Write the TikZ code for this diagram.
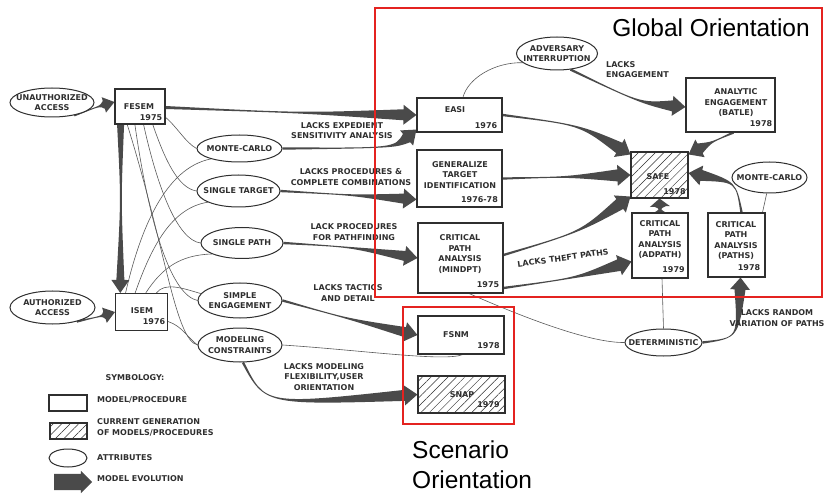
\documentclass[tikz,border=0pt]{standalone}
\usepackage{fontspec}
\setmainfont{DejaVu Sans}
\newfontfamily\headfont{Liberation Sans}
\usetikzlibrary{shapes.geometric,shapes.arrows,calc,patterns.meta}

\definecolor{ink}{HTML}{2F2F2F}
\definecolor{band}{HTML}{4A4A4A}
\definecolor{frame}{HTML}{E42320}

\newcommand\labfont{\fontsize{8}{10.5}\selectfont\bfseries}

\pgfdeclarelayer{links}
\pgfsetlayers{links,main}

\tikzset{
  lab/.style={font=\labfont, text=ink, align=center, inner sep=0pt},
  model/.style={draw=ink, line width=1.1pt, fill=white, rectangle, inner sep=0pt},
  current/.style={model, postaction={pattern={Lines[angle=45,distance=6pt,line width=0.5pt]}, pattern color=ink}},
  attr/.style={draw=ink, line width=1pt, fill=white, ellipse, inner sep=0pt},
  attrline/.style={draw=ink!80, line width=0.6pt},
  orient/.style={draw=frame, line width=1.8pt, rectangle, inner sep=0pt},
  headline/.style={font=\headfont\fontsize{24.5}{30}\selectfont, text=black, inner sep=0pt, align=left},
}

% attribute ellipse with its caption: name, position, width, height, text
\newcommand\attrnode[5]{%
  \node[attr, minimum width=#3, minimum height=#4] (#1) at #2 {};
  \node[lab] (#1-t) at (#1.center) {#5};}

% tapered "model evolution" arrow: start, control point, tip
\pgfkeys{/evo/.is family, /evo,
  tw/.store in=\evoTW, w/.store in=\evoW, hw/.store in=\evoHW, hl/.store in=\evoHL}
\newcommand\evodefaults{\pgfkeys{/evo, tw=1.2pt, w=5pt, hw=10pt, hl=13pt}}
\newcommand\evo[4][]{%
  \begingroup
  \evodefaults\pgfkeys{/evo,#1}%
  \path #2 coordinate (evoS) #3 coordinate (evoC) #4 coordinate (evoT);
  \path ($(evoT)!\evoHL!(evoC)$) coordinate (evoB);
  \fill[band] ($(evoS)!\evoTW!90:(evoC)$) .. controls (evoC) and (evoC) .. ($(evoB)!\evoW!90:(evoT)$)
    -- ($(evoB)!\evoHW!90:(evoT)$) -- (evoT) -- ($(evoB)!\evoHW!-90:(evoT)$)
    -- ($(evoB)!\evoW!-90:(evoT)$) .. controls (evoC) and (evoC) .. ($(evoS)!\evoTW!-90:(evoC)$) -- cycle;
  \endgroup}

\begin{document}
\begin{tikzpicture}[x=1pt,y=-1pt]
\useasboundingbox (0,0) rectangle (827,494);

% ---------- models / procedures ----------
\node[model, minimum width=50pt, minimum height=35pt] (fesem) at (140,106.5) {};
\node[model, minimum width=52pt, minimum height=37pt] (isem) at (141.5,312) {};
\node[model, minimum width=85pt, minimum height=34pt] (easi) at (459.5,115) {};
\node[model, minimum width=85pt, minimum height=57pt] (gen) at (459.5,178.5) {};
\node[model, minimum width=85pt, minimum height=70pt] (mindpt) at (460.5,258) {};
\node[model, minimum width=86pt, minimum height=38pt] (fsnm) at (461,335) {};
\node[current, minimum width=87pt, minimum height=37pt] (snap) at (461.5,394.5) {};
\node[model, minimum width=89pt, minimum height=54pt] (batle) at (730.5,105) {};
\node[current, minimum width=57pt, minimum height=46pt] (safe) at (659.5,175) {};
\node[model, minimum width=56pt, minimum height=65pt] (adpath) at (660,245.5) {};
\node[model, minimum width=57pt, minimum height=64pt] (paths) at (736.5,245) {};

\node[lab] (fesem-t) at (139,106.7) {FESEM};
\node[lab] (fesem-y) at (151,118) {1975};
\node[lab] (isem-t) at (142,310.7) {ISEM};
\node[lab] (isem-y) at (154,322) {1976};
\node[lab] (easi-t) at (455,110) {EASI};
\node[lab] (easi-y) at (486,126) {1976};
\node[lab] (gen-t) at (460,175) {GENERALIZE\\TARGET\\IDENTIFICATION};
\node[lab] (gen-y) at (479.5,200) {1976-78};
\node[lab] (mindpt-t) at (460,254) {CRITICAL\\PATH\\ANALYSIS\\(MINDPT)};
\node[lab] (mindpt-y) at (488,285) {1975};
\node[lab] (fsnm-t) at (456,335) {FSNM};
\node[lab] (fsnm-y) at (488.5,346) {1978};
\node[lab] (snap-t) at (462,395) {SNAP};
\node[lab] (snap-y) at (488.5,405) {1979};
\node[lab] (batle-t) at (736,103) {ANALYTIC\\ENGAGEMENT\\(BATLE)};
\node[lab] (batle-y) at (761,124) {1978};
\node[lab] (safe-t) at (658,177) {SAFE};
\node[lab] (safe-y) at (674.5,192) {1978};
\node[lab] (adpath-t) at (660,239.5) {CRITICAL\\PATH\\ANALYSIS\\(ADPATH)};
\node[lab] (adpath-y) at (673.5,270) {1979};
\node[lab] (paths-t) at (736,240.5) {CRITICAL\\PATH\\ANALYSIS\\(PATHS)};
\node[lab] (paths-y) at (749,268) {1978};

% ---------- attributes ----------
\attrnode{unauth}{(52,102.5)}{84pt}{29pt}{UNAUTHORIZED\\ACCESS}
\attrnode{auth}{(52.5,307.5)}{85pt}{33pt}{AUTHORIZED\\ACCESS}
\attrnode{mcL}{(239.5,148.5)}{85pt}{27pt}{MONTE-CARLO}
\attrnode{st}{(238.5,191)}{83pt}{32pt}{SINGLE TARGET}
\attrnode{sp}{(242,243)}{82pt}{31pt}{SINGLE PATH}
\attrnode{se}{(240,300.5)}{84pt}{35pt}{SIMPLE\\ENGAGEMENT}
\attrnode{mod}{(240,345)}{84pt}{34pt}{MODELING\\CONSTRAINTS}
\attrnode{adv}{(557,53.5)}{81pt}{33pt}{ADVERSARY\\INTERRUPTION}
\attrnode{mcR}{(769.5,177.5)}{75pt}{31pt}{MONTE-CARLO}
\attrnode{det}{(663.5,342.5)}{77pt}{27pt}{DETERMINISTIC}

\begin{pgfonlayer}{links}
% ---------- attribute links ----------
\draw[attrline] ($(fesem.east)!0.6!(fesem.south east)$) .. controls (178,128) and (185,142) .. (mcL.west);
\draw[attrline] ($(fesem.south west)!0.75!(fesem.south east)$) .. controls (165,160) and (178,188) .. (st.west);
\draw[attrline] ($(fesem.south west)!0.57!(fesem.south east)$) .. controls (158,190) and (178,240) .. (sp.west);
\draw[attrline] ($(fesem.south west)!0.4!(fesem.south east)$) .. controls (150,230) and (172,295) .. (se.west);
\draw[attrline] ($(fesem.south west)!0.25!(fesem.south east)$) .. controls (165,245) and (175,340) .. (mod.west);

\draw[attrline] ($(isem.north west)!0.2!(isem.north east)$) .. controls (140,230) and (165,168) .. (mcL.200);
\draw[attrline] ($(isem.north west)!0.38!(isem.north east)$) .. controls (152,245) and (172,208) .. (st.200);
\draw[attrline] ($(isem.north west)!0.58!(isem.north east)$) .. controls (162,268) and (180,255) .. (sp.200);
\draw[attrline] ($(isem.north west)!0.78!(isem.north east)$) .. controls (165,282) and (182,288) .. (se.170);
\draw[attrline] ($(isem.east)!0.5!(isem.south east)$) .. controls (182,326) and (188,338) .. (mod.west);

\draw[attrline] ($(easi.north west)!0.54!(easi.north east)$) .. controls (468,78) and (495,62) .. (adv.195);
\draw[attrline] ($(mindpt.south west)!0.6!(mindpt.south east)$) .. controls (525,318) and (590,343) .. (det.west);
\draw[attrline] (mod.east) .. controls (360,350) and (445,362) .. ($(fsnm.south west)!0.52!(fsnm.south east)$);
\draw[attrline] ([xshift=2pt]adpath.south) -- (det.north);
\draw[attrline] (mcR.-100) -- ([xshift=26pt]paths.north);

% ---------- model evolution ----------
\evo[w=4pt,hw=8pt,hl=11pt]{(unauth.-30)}{(100,106)}{([yshift=4.5pt]fesem.west)}
\evo[w=4pt,hw=8pt,hl=11pt]{(auth.-30)}{(102,316)}{(isem.west)}
\evo[tw=3.5pt,w=4pt,hw=9pt,hl=13pt]{($(fesem.south west)!0.12!(fesem.south east)$)}{(121,200)}{($(isem.north west)!0.1!(isem.north east)$)}
\evo[tw=1.5pt,w=5.5pt]{([yshift=-1pt]fesem.east)}{(300,113)}{(easi.west)}
\evo[w=5.5pt]{(mcL.east)}{(395,148)}{([yshift=3pt]easi.south west)}
\evo{(st.east)}{(350,195)}{([yshift=-21pt]gen.west)}
\evo{(sp.east)}{(350,247)}{(mindpt.west)}
\evo{(se.east)}{(345,318)}{(fsnm.west)}
\evo[w=5.5pt]{([xshift=3pt]mod.south)}{(265,405)}{(snap.west)}
\evo[w=6pt,hw=10.5pt]{(easi.east)}{(580,125)}{([yshift=-3pt]safe.north west)}
\evo[w=6pt,hw=10.5pt]{(gen.east)}{(565,177)}{(safe.west)}
\evo[w=6pt,hw=10.5pt]{([yshift=3pt]mindpt.east)}{(580,232)}{([yshift=2pt]safe.south west)}
\evo[w=6pt,hw=10.5pt]{([yshift=-30pt]mindpt.east)}{(575,278)}{([yshift=-16pt]adpath.west)}
\evo[w=5.5pt]{(adv.-50)}{(640,103)}{([yshift=-2pt]batle.west)}
\evo[w=5.5pt]{([xshift=3pt]batle.south)}{(712,142)}{([yshift=-3pt]safe.north east)}
\evo[w=5.5pt]{([xshift=5pt]paths.north)}{(736,182)}{([yshift=2pt]safe.east)}
\evo[tw=5.5pt,w=5.5pt,hw=10pt,hl=8pt]{(adpath.north)}{(660,209)}{(safe.south)}
\evo[w=5.5pt,hl=12pt]{(det.east)}{(738,338)}{([xshift=4pt]paths.south)}
\end{pgfonlayer}

% ---------- deficiencies ----------
\node[lab] (l1) at (342,130.5) {LACKS EXPEDIENT\\SENSITIVITY ANALYSIS};
\node[lab] (l2) at (351,177) {LACKS PROCEDURES \&\\COMPLETE COMBINATIONS};
\node[lab] (l3) at (354,232) {LACK PROCEDURES\\FOR PATHFINDING};
\node[lab] (l4) at (348,293) {LACKS TACTICS\\AND DETAIL};
\node[lab] (l5) at (324,377) {LACKS MODELING\\FLEXIBILITY,USER\\ORIENTATION};
\node[lab, rotate=8] (l6) at (563,258) {LACKS THEFT PATHS};
\node[lab, align=left, anchor=west] (l7) at (606,69.5) {LACKS\\ENGAGEMENT};
\node[lab] (l8) at (777,318) {LACKS RANDOM\\VARIATION OF PATHS};

% ---------- symbology ----------
\node[lab] (symb) at (135,378) {SYMBOLOGY:};
\node[model, minimum width=38pt, minimum height=16pt] (legmodel) at (68,403) {};
\node[lab, anchor=west] (legmodel-t) at (97,400) {MODEL/PROCEDURE};
\node[current, minimum width=37pt, minimum height=16pt] (legcur) at (68.5,431) {};
\node[lab, anchor=west, align=left] (legcur-t) at (97,427.5) {CURRENT GENERATION\\OF MODELS/PROCEDURES};
\node[attr, minimum width=38pt, minimum height=18pt] (legattr) at (68,458) {};
\node[lab, anchor=west] (legattr-t) at (97,458) {ATTRIBUTES};
\node[single arrow, fill=band, minimum height=38pt, inner xsep=0pt, inner ysep=8pt,
      single arrow head extend=3pt] (legevo) at (69,482) {};
\node[lab, anchor=west] (legevo-t) at (97,479) {MODEL EVOLUTION};

% ---------- orientation frames ----------
\node[orient, minimum width=447pt, minimum height=289pt] (global) at (598.5,152.5) {};
\node[headline] (global-t) at (711,28) {Global Orientation};
\node[orient, minimum width=111pt, minimum height=117pt] (scen) at (458.5,365.5) {};
\node[headline, anchor=north west] (scen-t) at (412,441) {Scenario\\Orientation};
\end{tikzpicture}
\end{document}
